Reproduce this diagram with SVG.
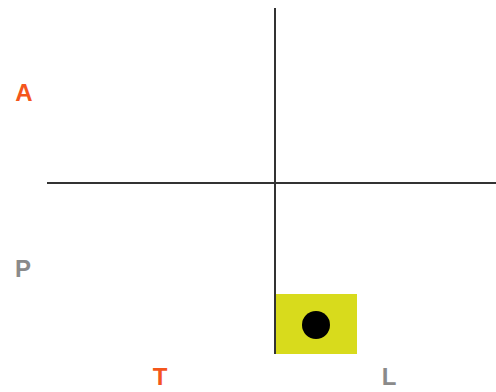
<svg xmlns="http://www.w3.org/2000/svg" width="496" height="392" viewBox="0 0 496 392">
<style>
.lbl{font-family:"Liberation Sans",Arial,sans-serif;font-weight:bold;font-size:24px;text-anchor:middle}
.or{fill:#f4561c}
.gr{fill:#8a8a8a}
.ax{stroke:#333;stroke-width:2;fill:none}
</style>
<rect width="496" height="392" fill="#fff"/>
<g id="marker-box">
<rect x="276" y="294" width="81" height="60" fill="#d8db1c"/>
<circle cx="316" cy="325" r="14" fill="#000"/>
</g>
<g id="axes">
<line class="ax" x1="275" y1="8" x2="275" y2="354"/>
<line class="ax" x1="47" y1="183" x2="496" y2="183"/>
</g>
<g id="label-A"><text class="lbl or" x="24" y="101">A</text></g>
<g id="label-P"><text class="lbl gr" x="23" y="277">P</text></g>
<g id="label-T"><text class="lbl or" x="160" y="385">T</text></g>
<g id="label-L"><text class="lbl gr" x="389" y="385">L</text></g>
</svg>
